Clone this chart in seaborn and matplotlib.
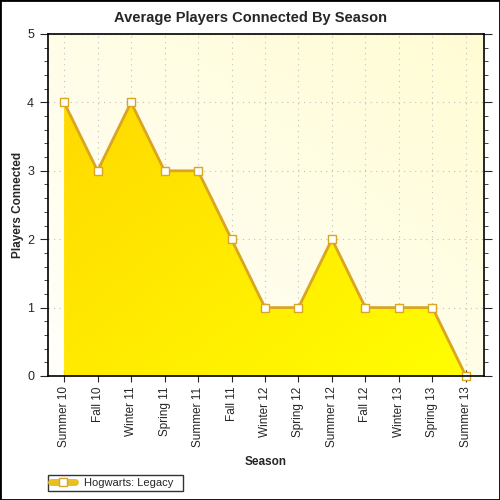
import numpy as np
import pandas as pd
import matplotlib
matplotlib.use("Agg")
import matplotlib.pyplot as plt
import seaborn as sns
from matplotlib.colors import LinearSegmentedColormap
from matplotlib.lines import Line2D
from matplotlib.patches import Rectangle
from matplotlib.ticker import MultipleLocator

seasons = ["Summer 10", "Fall 10", "Winter 11", "Spring 11", "Summer 11", "Fall 11",
           "Winter 12", "Spring 12", "Summer 12", "Fall 12", "Winter 13", "Spring 13",
           "Summer 13"]
players = [4, 3, 4, 3, 3, 2, 1, 1, 2, 1, 1, 1, 0]
series_name = "Hogwarts: Legacy"

sns.set_style("white")
plt.rcParams["font.family"] = ["Liberation Sans", "DejaVu Sans"]

df = pd.DataFrame({"season": seasons, "players": players, "x": range(len(seasons))})

fig = plt.figure(figsize=(5, 5), dpi=100)
ax = fig.add_axes([0.096, 0.248, 0.872, 0.684])
xlim = (-0.48, len(seasons) - 1 + 0.54)
ylim = (0, 5)

# plot area background: white bottom-left to pale yellow top-right
bg = LinearSegmentedColormap.from_list("bg", ["#fffffa", "#fffcd4"])
gx, gy = np.meshgrid(np.linspace(0, 1, 200), np.linspace(0, 1, 200))
ax.imshow((gx + gy) / 2, cmap=bg, extent=[*xlim, *ylim], aspect="auto",
          origin="lower", zorder=0)

# area fill: gold top-left to yellow bottom-right, clipped to the area polygon
fill = ax.fill_between(df["x"], df["players"], 0, color="none", zorder=2)
fg = LinearSegmentedColormap.from_list("fg", ["#ffd400", "#ffff00"])
img = ax.imshow((gx + (1 - gy)) / 2, cmap=fg, extent=[*xlim, *ylim], aspect="auto",
                origin="lower", zorder=2)
img.set_clip_path(fill.get_paths()[0], transform=ax.transData)

sns.lineplot(data=df, x="x", y="players", ax=ax, color="#daa520", linewidth=2,
             marker="s", markersize=5.5, markerfacecolor="white",
             markeredgecolor="#daa520", markeredgewidth=1, zorder=3, clip_on=False)

ax.set_xlim(*xlim)
ax.set_ylim(*ylim)
ax.set_xticks(df["x"])
ax.set_xticklabels(seasons, rotation=90, fontsize=8.5)
ax.yaxis.set_major_locator(MultipleLocator(1))
ax.yaxis.set_minor_locator(MultipleLocator(0.2))
ax.tick_params(axis="y", which="major", direction="out", length=6, labelsize=9,
               right=True, left=True, pad=4)
ax.tick_params(axis="y", which="minor", direction="out", length=3, right=True, left=True)
ax.tick_params(axis="x", direction="inout", length=8, bottom=True, labelsize=8.5)
ax.grid(True, which="major", color="#c0c0c0", linestyle=(0, (1, 4)), linewidth=0.8)
for gl in ax.get_xgridlines() + ax.get_ygridlines():
    gl.set_zorder(1)
for s in ax.spines.values():
    s.set_color("black")
    s.set_linewidth(1.2)
    s.set_zorder(4)

fig.text(0.5, 0.964, "Average Players Connected By Season", fontsize=10.5,
         fontweight="bold", ha="center", va="center")
ax.set_xlabel("Season", fontsize=8.5, fontweight="bold", labelpad=6)
ax.set_ylabel("Players Connected", fontsize=8.5, fontweight="bold", labelpad=2)

handle = Line2D([0], [0], color="#e8c020", linewidth=5, marker="s", markersize=6,
                markerfacecolor="white", markeredgecolor="#daa520")
leg = fig.legend([handle], [series_name], loc="lower left", bbox_to_anchor=(0.096, 0.018),
                 frameon=True, fancybox=False, fontsize=8, handlelength=2.2,
                 borderpad=0.25, borderaxespad=0, handletextpad=0.8,
                 edgecolor="black")
leg.get_frame().set_linewidth(1)
for t in leg.get_texts():
    t.set_text(series_name + "  ")

fig.patches.append(Rectangle((0, 0), 1, 1, transform=fig.transFigure, fill=False,
                             edgecolor="black", linewidth=2))

fig.savefig("out.png", dpi=100)
